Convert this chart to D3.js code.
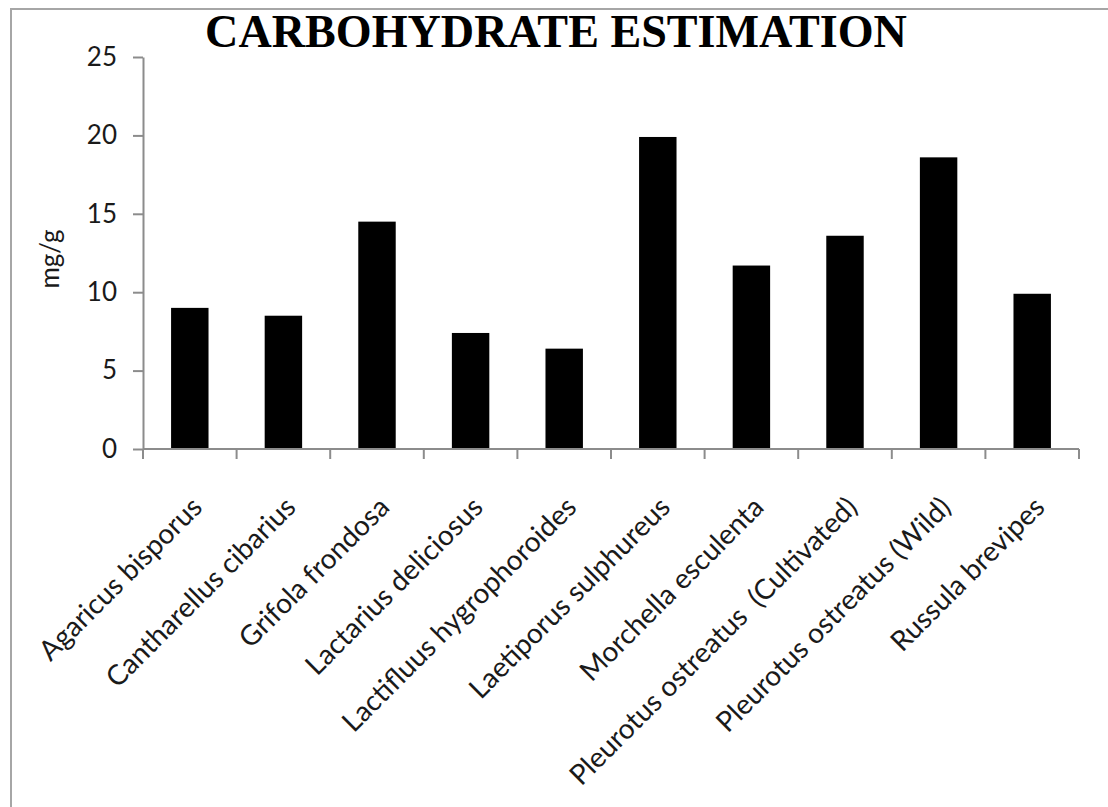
<!DOCTYPE html>
<html><head><meta charset="utf-8">
<script src="https://cdn.jsdelivr.net/npm/d3@7/dist/d3.min.js"></script>
<style>html,body{margin:0;padding:0;background:#fff;overflow:hidden}svg{display:block}</style>
</head><body><svg id="c" width="1108" height="807"></svg>
<script>
const categories = ["Agaricus bisporus","Cantharellus cibarius","Grifola frondosa","Lactarius deliciosus","Lactifluus hygrophoroides","Laetiporus sulphureus","Morchella esculenta","Pleurotus ostreatus  (Cultivated)","Pleurotus ostreatus (Wild)","Russula brevipes"];
const values = [9.0, 8.5, 14.5, 7.4, 6.4, 19.9, 11.7, 13.6, 18.6, 9.9];
const yTicks = [0,5,10,15,20,25];
const title = "CARBOHYDRATE ESTIMATION";
const yLabel = "mg/g";

const svg = d3.select("#c");
const L = 143, R = 1079, T = 57, B = 449;
svg.append("path").attr("d","M11,900 V9 H1200")
  .attr("fill","none").attr("stroke","#a6a6a6").attr("stroke-width",2);

const x = d3.scaleBand().domain(categories).range([L,R]).paddingInner(0.6).paddingOuter(0.3);
const xt = d3.scaleBand().domain(categories).range([L,R]);
const y = d3.scaleLinear().domain([0,25]).range([B,T]);

svg.append("g").selectAll("rect").data(values).join("rect")
  .attr("x",(d,i)=>x(categories[i])).attr("width",x.bandwidth())
  .attr("y",d=>y(d)).attr("height",d=>B-y(d)).attr("fill","#000");

const ya = svg.append("g").attr("transform",`translate(${L},0)`)
  .call(d3.axisLeft(y).tickValues(yTicks).tickSize(10).tickSizeOuter(0).tickPadding(16));
ya.select(".domain").attr("stroke","#8c8c8c").attr("stroke-width",2);
ya.selectAll(".tick line").attr("stroke","#8c8c8c").attr("stroke-width",2);
ya.selectAll("text").attr("font-family","Lato, 'Open Sans', sans-serif").attr("font-size",26).attr("fill","#1a1a1a");

const xa = svg.append("g");
xa.append("line").attr("x1",L).attr("x2",R).attr("y1",B).attr("y2",B).attr("stroke","#8c8c8c").attr("stroke-width",2);
const bounds = categories.map(c=>xt(c)).concat([R]);
xa.selectAll("line.t").data(bounds).join("line").attr("class","t")
  .attr("x1",d=>d).attr("x2",d=>d).attr("y1",B).attr("y2",B+10).attr("stroke","#8c8c8c").attr("stroke-width",2);

svg.append("g").selectAll("text").data(categories).join("text")
  .attr("transform",d=>`translate(${xt(d)+xt.bandwidth()/2+14},${B+60}) rotate(-45)`)
  .attr("text-anchor","end").attr("font-family","Lato, 'Open Sans', sans-serif").attr("font-size",28).attr("fill","#1a1a1a")
  .style("white-space","pre")
  .text(d=>d);

svg.append("text").attr("transform","translate(59,259) rotate(-90)").attr("text-anchor","middle")
  .attr("font-family","Lato, 'Open Sans', sans-serif").attr("font-size",26).attr("fill","#1a1a1a").text(yLabel);

const t = svg.append("text").attr("x",556).attr("y",47).attr("text-anchor","middle")
  .attr("font-family","'Liberation Serif','Times New Roman',serif").attr("font-weight","bold").attr("font-size",45).attr("fill","#000").text(title);
const w = t.node().getComputedTextLength();
t.attr("font-size", 45*702/w);
</script></body></html>
